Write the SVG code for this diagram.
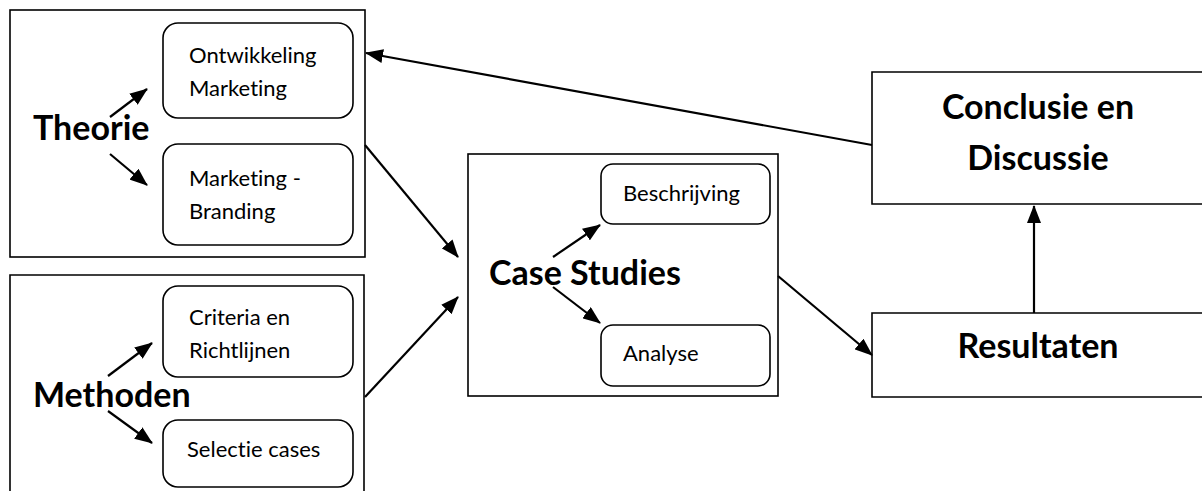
<svg xmlns="http://www.w3.org/2000/svg" width="1202" height="491" viewBox="0 0 1202 491">
<defs>
<style>
.box{fill:#fff;stroke:#000;stroke-width:1.6}
.sub{fill:#fff;stroke:#000;stroke-width:1.6}
.t{font-family:Lato,"Liberation Sans",sans-serif;font-size:22px;fill:#000;font-variant-ligatures:none}
.b{font-family:Lato,"Liberation Sans",sans-serif;font-size:34px;font-weight:bold;fill:#000;font-variant-ligatures:none}
.c{stroke:#000;stroke-width:2.2;fill:none;marker-end:url(#ah)}
</style>
<marker id="ah" markerUnits="userSpaceOnUse" markerWidth="18" markerHeight="14" viewBox="0 0 18 14" refX="17" refY="7" orient="auto">
<path d="M0,0 L18,7 L0,14 Z" fill="#000"/>
</marker>
</defs>
<rect width="1202" height="491" fill="#fff"/>

<g id="theorie">
<rect class="box" x="10" y="10" width="355" height="247"/>
<text class="b" x="33" y="140">Theorie</text>
</g>
<g id="ontwikkeling">
<rect class="sub" x="163" y="23" width="190" height="95" rx="15"/>
<text class="t" x="189" y="63">Ontwikkeling</text>
<text class="t" x="189" y="96">Marketing</text>
</g>
<g id="branding">
<rect class="sub" x="163" y="144" width="190" height="101" rx="15"/>
<text class="t" x="189" y="186">Marketing -</text>
<text class="t" x="189" y="219">Branding</text>
</g>

<g id="methoden">
<path class="box" d="M10,500 V275 H364 V500"/>
<text class="b" x="33" y="407">Methoden</text>
</g>
<g id="criteria">
<rect class="sub" x="163" y="286" width="190" height="91" rx="15"/>
<text class="t" x="189" y="325">Criteria en</text>
<text class="t" x="189" y="358">Richtlijnen</text>
</g>
<g id="selectie">
<rect class="sub" x="163" y="420" width="190" height="67" rx="15"/>
<text class="t" x="187" y="457">Selectie cases</text>
</g>

<g id="casestudies">
<rect class="box" x="468" y="154" width="310" height="242"/>
<text class="b" x="489" y="285">Case Studies</text>
</g>
<g id="beschrijving">
<rect class="sub" x="601" y="164" width="169" height="60" rx="12"/>
<text class="t" x="623" y="201">Beschrijving</text>
</g>
<g id="analyse">
<rect class="sub" x="601" y="325" width="169" height="61" rx="12"/>
<text class="t" x="623" y="361">Analyse</text>
</g>

<g id="conclusie">
<path class="box" d="M1210,72 H872 V204 H1210"/>
<text class="b" x="1038" y="119" text-anchor="middle">Conclusie en</text>
<text class="b" x="1038" y="170" text-anchor="middle">Discussie</text>
</g>
<g id="resultaten">
<path class="box" d="M1210,313 H872 V397 H1210"/>
<text class="b" x="1038" y="358" text-anchor="middle">Resultaten</text>
</g>

<g id="connectors">
<line class="c" x1="110" y1="117" x2="147" y2="89"/>
<line class="c" x1="110" y1="154" x2="147" y2="185"/>
<line class="c" x1="108" y1="376" x2="152" y2="343"/>
<line class="c" x1="108" y1="411" x2="152" y2="443"/>
<line class="c" x1="553" y1="257" x2="600" y2="225"/>
<line class="c" x1="553" y1="287" x2="600" y2="323"/>
<line class="c" x1="365" y1="145" x2="458" y2="257"/>
<line class="c" x1="365" y1="397" x2="458" y2="297"/>
<line class="c" x1="778" y1="276" x2="872" y2="355"/>
<line class="c" x1="1034" y1="313" x2="1034" y2="206"/>
<line class="c" x1="872" y1="145" x2="366" y2="53"/>
</g>
</svg>
